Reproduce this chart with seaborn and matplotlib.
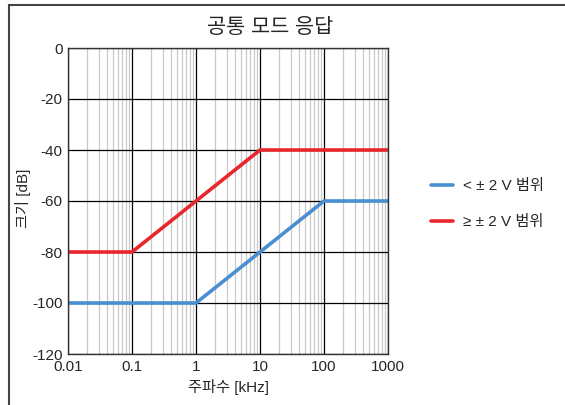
import seaborn as sns
import pandas as pd
import numpy as np
import matplotlib.pyplot as plt
from matplotlib.patches import Rectangle
from matplotlib.ticker import FixedLocator, LogLocator, NullFormatter

# data
freq_low = [0.01, 1, 100, 1000]
mag_low = [-100, -100, -60, -60]
freq_high = [0.01, 0.1, 10, 1000]
mag_high = [-80, -80, -40, -40]
labels = ['< ± 2 V 범위', '≥ ± 2 V 범위']
colors = ['#4a8fd2', '#e8262d']

df = pd.concat([
    pd.DataFrame({'freq': freq_low, 'mag': mag_low, 'range': labels[0]}),
    pd.DataFrame({'freq': freq_high, 'mag': mag_high, 'range': labels[1]}),
])

sns.set_style('white')
plt.rcParams['font.family'] = ['Liberation Sans', 'Noto Sans CJK KR', 'DejaVu Sans']
plt.rcParams['axes.unicode_minus'] = False

fig = plt.figure(figsize=(5.65, 4.05), dpi=100)
ax = fig.add_axes([68/565, 1 - 354/405, 320/565, 306/405])

# outer frame (cropped on right/bottom)
fig.patches.append(Rectangle((9/565, -0.1), 1.2, 1 - 5/405 + 0.1, transform=fig.transFigure,
                             fill=False, edgecolor='#444444', linewidth=1.5))

sns.lineplot(data=df, x='freq', y='mag', hue='range', palette=colors, linewidth=2.6,
             ax=ax, sort=False, estimator=None)

ax.set_xscale('log')
ax.set_xlim(0.01, 1000)
ax.set_ylim(-120, 0)
ax.xaxis.set_major_locator(FixedLocator([0.01, 0.1, 1, 10, 100, 1000]))
ax.set_xticklabels(['0.01', '0.1', '1', '10', '100', '1000'])
ax.xaxis.set_minor_locator(LogLocator(base=10, subs=np.arange(2, 10)))
ax.xaxis.set_minor_formatter(NullFormatter())
ax.set_yticks(range(-120, 1, 20))

ax.grid(True, which='major', color='black', linewidth=0.9)
ax.grid(True, which='minor', axis='x', color='#c8c8c8', linewidth=0.9)
ax.set_axisbelow(True)
for s in ax.spines.values():
    s.set_color('#333333')
    s.set_linewidth(1.0)
ax.tick_params(axis='both', which='both', length=0, labelsize=11)
ax.tick_params(axis='y', pad=4)
ax.tick_params(axis='x', pad=4)

# title is centred on the whole frame, not the axes
fig.text(270/565, 1 - 27/405, '공통 모드 응답', fontsize=15, ha='center', va='center')
ax.set_xlabel('주파수 [kHz]', fontsize=11, labelpad=4)
ax.set_ylabel('크기 [dB]', fontsize=11)
ax.yaxis.set_label_coords(-0.116, 0.51)

ax.legend(loc='center left', bbox_to_anchor=(1.09, 0.49), frameon=False, fontsize=11,
          handlelength=1.5, handletextpad=0.65, labelspacing=1.45, title=None)

fig.savefig('out.png', dpi=100)
